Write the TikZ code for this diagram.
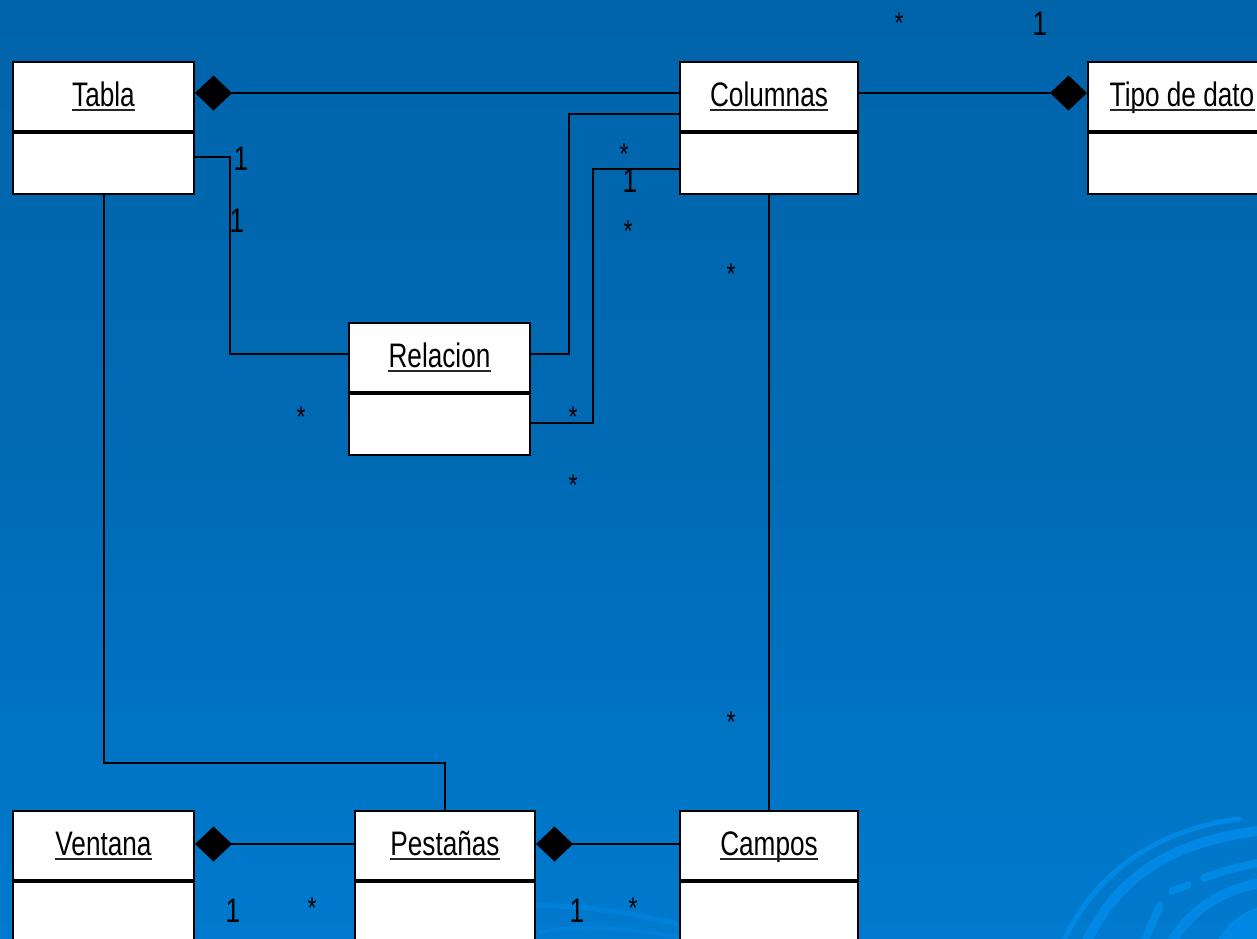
\documentclass[tikz,border=0pt]{standalone}
\usepackage{fontspec}
\usetikzlibrary{arrows.meta}
\newfontfamily\umlfont[FakeStretch=0.77]{Liberation Sans}
\definecolor{bgtop}{RGB}{0,100,170}
\definecolor{bgbot}{RGB}{0,122,206}
\definecolor{swirl}{RGB}{0,136,228}
\definecolor{swirlfaint}{RGB}{0,128,216}
\newcommand\mone{\smash{\raisebox{-12pt}{1}}}
\newcommand\mstar{\smash{\raisebox{-17pt}{*}}}
\tikzset{
  boxline/.style={draw=black, line width=2pt, fill=white, inner sep=0pt, anchor=north west},
  lbl/.style={inner sep=0pt, anchor=base, font=\umlfont\fontsize{34pt}{34pt}\selectfont},
  mult/.style={inner sep=0pt, anchor=base, font=\umlfont\fontsize{34pt}{34pt}\selectfont},
  smult/.style={inner sep=0pt, anchor=base, font=\umlfont\fontsize{30pt}{30pt}\selectfont},
  uline/.style={draw=black!85, line width=2pt},
  conn/.style={draw=black, line width=2pt},
  comp/.style={{Diamond[length=37pt,width=35pt]}-},
  compr/.style={-{Diamond[length=37pt,width=35pt]}},
}
\newcommand\umlclass[5]{%
  \node[boxline, minimum width={(#4-#3)*1pt}, minimum height=69pt] (#1-h) at (#3,#5) {};
  \node[boxline, minimum width={(#4-#3)*1pt}, minimum height=61pt] (#1-b) at (#1-h.south west) {};
  \node[lbl] (#1-t) at ([yshift=-45pt]#1-h.north) {#2};
  \draw[uline] ([yshift=-3.5pt]#1-t.base west) -- ([yshift=-3.5pt]#1-t.base east);
}
\begin{document}
\begin{tikzpicture}[x=1pt,y=-1pt]
\useasboundingbox (0,0) rectangle (1257,938);
\clip (0,0) rectangle (1257,938);
\fill[top color=bgtop, bottom color=bgbot, middle color=bgtop!70!bgbot] (0,0) rectangle (1257,938);
% swirl decoration
\begin{scope}[line cap=round]
\draw[swirl, line width=5pt] (1062,945) .. controls (1090,880) and (1150,830) .. (1239,819);
\draw[swirl, line width=10pt] (1085,945) .. controls (1120,870) and (1180,840) .. (1265,830);
\draw[swirl, line width=7pt] (1172,891) -- (1188,885);
\draw[swirl, line width=8pt] (1204,878) .. controls (1220,872) and (1240,866) .. (1265,862);
\draw[swirl, line width=8pt] (1143,945) -- (1160,905);
\draw[swirl, line width=10pt] (1170,945) .. controls (1190,910) and (1220,890) .. (1265,882);
\fill[swirl] (1215,945) .. controls (1225,925) and (1240,912) .. (1265,905) -- (1265,945) -- cycle;
\draw[swirlfaint, line width=5pt] (520,906) .. controls (580,904) and (630,912) .. (685,926);
\draw[swirlfaint, line width=4pt] (540,932) .. controls (580,925) and (630,928) .. (685,938);
\end{scope}
% classes
\umlclass{tabla}{Tabla}{12}{193}{61}
\umlclass{col}{Columnas}{679}{857}{61}
\umlclass{tipo}{Tipo de dato}{1087}{1275}{61}
\umlclass{rel}{Relacion}{348}{529}{322}
\umlclass{ven}{Ventana}{12}{193}{810}
\umlclass{pes}{Pestañas}{354}{534}{810}
\umlclass{cam}{Campos}{679}{857}{810}
% connectors
\draw[conn, comp] ([yshift=-32pt]tabla-h.north east) -- ([yshift=-32pt]col-h.north west);
\draw[conn, compr] ([yshift=-32pt]col-h.north east) -- ([yshift=-32pt]tipo-h.north west);
\draw[conn] ([yshift=-96pt]tabla-h.north east) -- ++(35,0) |- ([yshift=-32pt]rel-h.north west);
\draw[conn] ([yshift=-32pt]rel-h.north east) -- ++(38,0) |- ([yshift=-53pt]col-h.north west);
\draw[conn] ([yshift=-30pt]rel-b.north east) -- ++(62,0) |- ([yshift=-37pt]col-b.north west);
\draw[conn] (col-b.south) -- (cam-h.north);
\draw[conn] (tabla-b.south) -- ++(0,568) -| (pes-h.north);
\draw[conn, comp] ([yshift=-34pt]ven-h.north east) -- ([yshift=-34pt]pes-h.north west);
\draw[conn, comp] ([yshift=-34pt]pes-h.north east) -- ([yshift=-34pt]cam-h.north west);
% multiplicities
\node[smult] (m1) at (899,16) {\mstar};
\node[mult] (m2) at (1040,23) {\mone};
\node[mult] (m3) at (241,158) {\mone};
\node[mult] (m4) at (237,220) {\mone};
\node[smult] (m5) at (624,147) {\mstar};
\node[mult] (m6) at (630,180) {\mone};
\node[smult] (m7) at (628,224) {\mstar};
\node[smult] (m8) at (731,267) {\mstar};
\node[smult] (m9) at (731,715) {\mstar};
\node[smult] (m10) at (301,410) {\mstar};
\node[smult] (m11) at (573,410) {\mstar};
\node[smult] (m12) at (573,478) {\mstar};
\node[mult] (m13) at (233,910) {\mone};
\node[smult] (m14) at (312,901) {\mstar};
\node[mult] (m15) at (577,910) {\mone};
\node[smult] (m16) at (633,901) {\mstar};
\end{tikzpicture}
\end{document}
